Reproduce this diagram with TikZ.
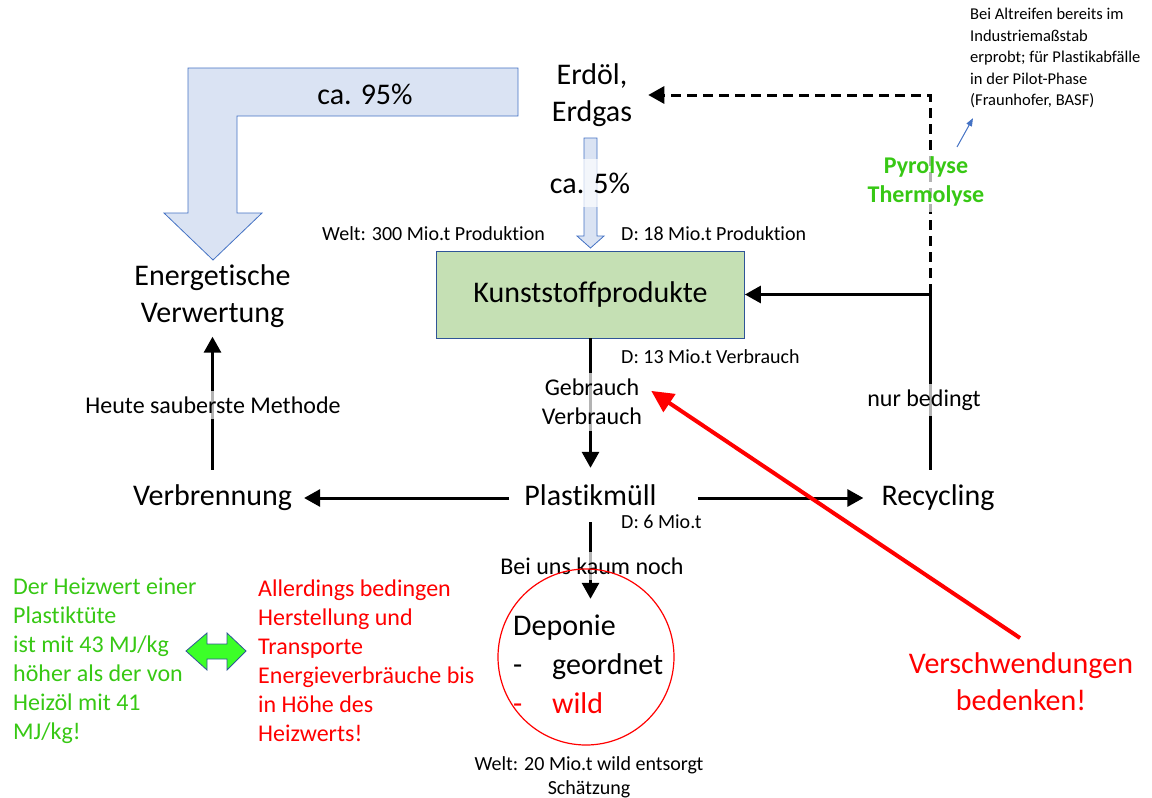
\documentclass[tikz,border=0pt]{standalone}
\usepackage{fontspec}
\setmainfont{Carlito}[Ligatures=NoCommon]
\usetikzlibrary{arrows.meta,calc}
\definecolor{grn}{RGB}{55,200,20}
\definecolor{lblue}{RGB}{218,227,243}
\definecolor{bstroke}{RGB}{68,114,196}
\definecolor{boxgreen}{RGB}{197,224,180}
\definecolor{boxstroke}{RGB}{47,85,151}
\definecolor{brightgreen}{RGB}{60,255,40}
\begin{document}
\begin{tikzpicture}[x=1pt,y=-1pt,
  big/.style={font=\fontsize{30}{37}\selectfont, align=center, inner sep=0pt},
  bigone/.style={big, text height=21pt, text depth=7pt},
  mid/.style={font=\fontsize{24}{29}\selectfont, inner sep=0pt},
  sml/.style={font=\fontsize{20}{24}\selectfont, inner sep=0pt},
  lbl/.style={fill=white, fill opacity=0.7, text opacity=1, inner xsep=2pt, inner ysep=6pt},
  tip/.style={-{Triangle[length=16pt,width=17pt]}},
  conn/.style={line width=3pt},
  blockarrow/.style={fill=lblue, draw=bstroke, line width=0.8pt},
]
\useasboundingbox (0,0) rectangle (1152,798);

% block arrows
\draw[blockarrow] (188,68) -- (518,68) -- (518,116) -- (237,116) -- (237,213) -- (262,213) -- (213,260) -- (164,213) -- (188,213) -- cycle;
\node[big] (p95) at (365,94) {ca. 95\%};
\draw[blockarrow] (584,138) -- (597,138) -- (597,236) -- (604,236) -- (590.5,248) -- (577,236) -- (584,236) -- cycle;

% main nodes
\node[big] (erdoel) at (592,95) {Erdöl,\\Erdgas};
\node[draw=boxstroke, fill=boxgreen, line width=0.8pt, minimum width=308pt, minimum height=87pt, font=\fontsize{30}{37}\selectfont, inner sep=0pt] (kunst) at (590.5,294.5) {Kunststoffprodukte};
\node[big] (energ) at (212.5,296) {Energetische\\Verwertung};
\node[bigone] (verbr) at (212.5,498) {Verbrennung};
\node[bigone] (plast) at (590.5,498) {Plastikmüll};
\node[bigone] (recyc) at (938,498) {Recycling};
\node[circle, minimum size=176pt, inner sep=0pt] (dep) at (586,657) {};

% connectors
\draw[conn, dash pattern=on 10pt off 6pt, tip] ([xshift=-8pt,yshift=14pt]recyc.north) |- ([xshift=16pt]erdoel.east);
\draw[conn, tip] ([xshift=-8pt,yshift=14pt]recyc.north) |- (kunst.east);
\draw[conn, tip] (kunst.south) -- ([yshift=16pt]plast.north);
\draw[conn, tip, shorten >=-30pt] ([yshift=-10pt]plast.south) -- (plast.south |- dep.north);
\draw[conn, tip] ([xshift=-15pt]plast.west) -- ([xshift=12pt]verbr.east);
\draw[conn, tip] ([xshift=41pt]plast.east) -- ([xshift=-18pt]recyc.west);
\draw[conn, tip] ([yshift=14pt]verbr.north) -- ([yshift=-9pt]energ.south);

% labels over connectors
\node[big, lbl, minimum height=48pt] (p5) at (590,183) {ca. 5\%};
\node[mid, lbl, align=center, font=\fontsize{24}{29}\selectfont\bfseries, text=grn] (pyro) at (926,181) {Pyrolyse\\Thermolyse};
\node[mid, lbl] (nur) at (924,400) {nur bedingt};
\node[mid, lbl] (heute) at (213,405) {Heute sauberste Methode};
\node[mid, lbl, align=center] (gebr) at (592,402) {Gebrauch\\Verbrauch};
\node[mid, lbl] (beiuns) at (592,566) {Bei uns kaum noch};

% quantity labels
\node[sml, anchor=east] (welt300) at (545,234) {Welt: 300 Mio.t Produktion};
\node[sml, anchor=west] (d18) at (621,234) {D: 18 Mio.t Produktion};
\node[sml, anchor=west] (d13) at (621,357) {D: 13 Mio.t Verbrauch};
\node[sml, anchor=west] (d6) at (621,522) {D: 6 Mio.t};
\node[sml, align=center] (welt20) at (589,777) {Welt: 20 Mio.t wild entsorgt\\Schätzung};

% deponie circle (drawn over the label) and text
\draw[red, line width=1.2pt] (dep.center) circle (88pt);
\node[big, align=left, anchor=north west, font=\fontsize{30}{39}\selectfont] (deptext) at (513,615) {Deponie\\\makebox[39pt][l]{-}geordnet\\\textcolor{red}{\makebox[39pt][l]{-}wild}};

% top-right note
\node[font=\fontsize{16.5}{21.5}\selectfont, align=left, anchor=north west, inner sep=0pt] (note) at (970,8) {Bei Altreifen bereits im\\Industriemaßstab\\erprobt; für Plastikabfälle\\in der Pilot-Phase\\(Fraunhofer, BASF)};
\coordinate (bstart) at (957,147);
\draw[bstroke, line width=1pt, -{Triangle[length=8pt,width=6pt]}] (bstart) -- ([xshift=3pt,yshift=-10pt]note.south west);

% red remark
\node[big, text=red] (verschw) at (1021,682) {Verschwendungen\\bedenken!};
\coordinate (rstart) at (1020,638);
\draw[red, line width=4pt, -{Triangle[length=22pt,width=21pt]}] (rstart) -- ([xshift=7pt,yshift=-18pt]gebr.north east);

% bottom-left texts and double arrow
\node[mid, align=left, anchor=west, text=grn] (heizwert) at (13,661) {Der Heizwert einer\\Plastiktüte\\ist mit 43 MJ/kg\\höher als der von\\Heizöl mit 41\\MJ/kg!};
\node[mid, align=left, anchor=west, text=red] (allerdings) at (258,661) {Allerdings bedingen\\Herstellung und\\Transporte\\Energieverbräuche bis\\in Höhe des\\Heizwerts!};
\draw[fill=brightgreen, draw=boxstroke, line width=0.8pt] (186,651) -- (207,633) -- (207,644) -- (227,644) -- (227,633) -- (246,651) -- (227,670) -- (227,659) -- (207,659) -- (207,670) -- cycle;
\end{tikzpicture}
\end{document}
